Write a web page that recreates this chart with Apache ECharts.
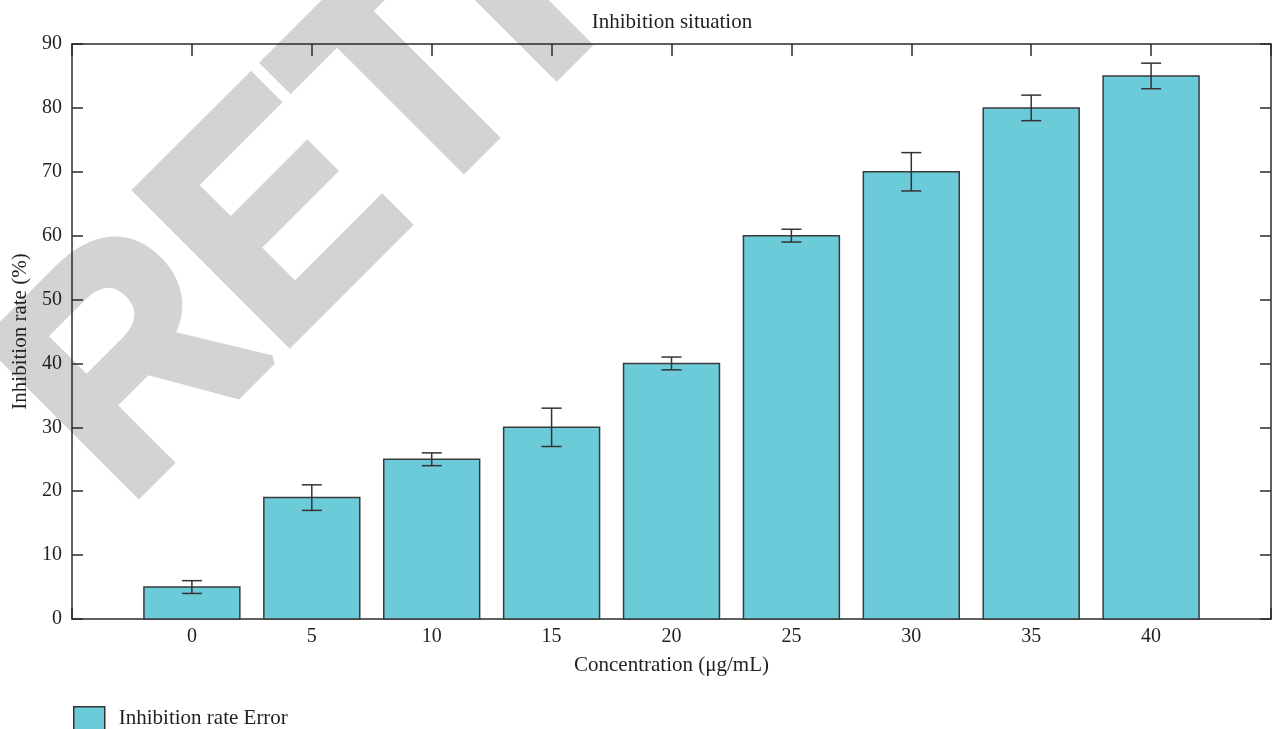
<!DOCTYPE html>
<html>
<head>
<meta charset="utf-8">
<title>Inhibition situation</title>
<script src="https://cdn.jsdelivr.net/npm/echarts@6/dist/echarts.min.js"></script>
<style>
  html, body { margin: 0; padding: 0; background: #ffffff; }
  #chart { width: 1274px; height: 729px; }
</style>
</head>
<body>
<div id="chart"></div>
<script>
// Concentrations (µg/mL), inhibition rate (%) and the ± error for each bar
const concentrations = [0, 5, 10, 15, 20, 25, 30, 35, 40];
const inhibitionRates = [5, 19, 25, 30, 40, 60, 70, 80, 85];
const rateErrors = [1, 2, 1, 3, 1, 1, 3, 2, 2];

const titleText = 'Inhibition situation';
const xAxisName = 'Concentration (μg/mL)';
const yAxisName = 'Inhibition rate (%)';
const seriesName = 'Inhibition rate Error';
const watermarkText = 'RETRACTED';

const FONT = '"Liberation Serif", "Times New Roman", serif';
const INK = '#231f20';
const FRAME = '#2b2b2b';
const BAR_FILL = '#6ccbd9';
const BAR_SPAN = 4; // bar width in concentration units

const chart = echarts.init(document.getElementById('chart'), null, { renderer: 'canvas' });

const rows = concentrations.map((c, i) => [c, inhibitionRates[i], rateErrors[i]]);

function renderBar(params, api) {
  const x = api.value(0);
  const v = api.value(1);
  const e = api.value(2);
  const base = api.coord([x, 0]);
  const top = api.coord([x, v]);
  const hi = api.coord([x, v + e]);
  const lo = api.coord([x, v - e]);
  const w = api.size([BAR_SPAN, 0])[0];
  const cap = 10;
  const lineStyle = { stroke: '#333333', lineWidth: 1.5 };
  return {
    type: 'group',
    children: [
      {
        type: 'rect',
        shape: { x: base[0] - w / 2, y: top[1], width: w, height: base[1] - top[1] },
        style: { fill: BAR_FILL, stroke: '#3a3a3a', lineWidth: 1.5 }
      },
      { type: 'line', shape: { x1: hi[0], y1: hi[1], x2: lo[0], y2: lo[1] }, style: lineStyle },
      { type: 'line', shape: { x1: hi[0] - cap, y1: hi[1], x2: hi[0] + cap, y2: hi[1] }, style: lineStyle },
      { type: 'line', shape: { x1: lo[0] - cap, y1: lo[1], x2: lo[0] + cap, y2: lo[1] }, style: lineStyle }
    ]
  };
}

const axisLine = { show: true, onZero: false, lineStyle: { color: FRAME, width: 1.5 } };
const tickStyle = { color: FRAME, width: 1.5 };

const option = {
  backgroundColor: '#ffffff',
  animation: false,
  title: {
    text: titleText,
    left: 672,
    textAlign: 'center',
    top: 12,
    padding: 0,
    textStyle: { fontFamily: FONT, fontSize: 21, fontWeight: 'normal', color: INK }
  },
  graphic: [
    {
      // diagonal stamp behind the plot
      type: 'text',
      x: 174,
      y: 556,
      rotation: Math.PI / 4,
      scaleX: 0.95,
      z: -100,
      silent: true,
      style: {
        text: watermarkText,
        font: 'bold 311px "Liberation Sans", Arial, sans-serif',
        fill: '#d3d3d3',
        stroke: '#d3d3d3',
        lineWidth: 10,
        lineJoin: 'miter',
        textAlign: 'left',
        textVerticalAlign: 'bottom'
      }
    }
  ],
  legend: {
    data: [seriesName],
    left: 73,
    top: 706,
    padding: 0,
    itemWidth: 31,
    itemHeight: 23,
    icon: 'rect',
    itemStyle: { color: BAR_FILL, borderColor: '#333333', borderWidth: 1.5 },
    textStyle: { fontFamily: FONT, fontSize: 21, color: INK, padding: [0, 0, 0, 9] }
  },
  grid: { left: 72, right: 1, top: 44, bottom: 110, containLabel: false },
  xAxis: [
    {
      type: 'value',
      min: -5,
      max: 45,
      interval: 5,
      position: 'bottom',
      axisLine: axisLine,
      axisTick: { show: true, inside: true, length: 11, lineStyle: tickStyle },
      axisLabel: {
        fontFamily: FONT, fontSize: 20, color: INK, margin: 8,
        formatter: v => (concentrations.includes(v) ? String(v) : '')
      },
      splitLine: { show: false },
      name: xAxisName,
      nameLocation: 'middle',
      nameGap: 36,
      nameTextStyle: { fontFamily: FONT, fontSize: 21, color: INK }
    },
    {
      type: 'value',
      min: -5,
      max: 45,
      interval: 5,
      position: 'top',
      axisLine: axisLine,
      axisTick: { show: true, inside: true, length: 12, lineStyle: tickStyle },
      axisLabel: { show: false },
      splitLine: { show: false }
    }
  ],
  yAxis: [
    {
      type: 'value',
      min: 0,
      max: 90,
      interval: 10,
      position: 'left',
      axisLine: axisLine,
      axisTick: { show: true, inside: true, length: 11, lineStyle: tickStyle },
      axisLabel: { fontFamily: FONT, fontSize: 20, color: INK, margin: 10 },
      splitLine: { show: false },
      name: yAxisName,
      nameLocation: 'middle',
      nameGap: 41,
      nameTextStyle: { fontFamily: FONT, fontSize: 21, color: INK }
    },
    {
      type: 'value',
      min: 0,
      max: 90,
      interval: 10,
      position: 'right',
      axisLine: axisLine,
      axisTick: { show: true, inside: true, length: 11, lineStyle: tickStyle },
      axisLabel: { show: false },
      splitLine: { show: false }
    }
  ],
  series: [
    {
      name: seriesName,
      type: 'custom',
      xAxisIndex: 0,
      yAxisIndex: 0,
      itemStyle: { color: BAR_FILL, borderColor: '#333333', borderWidth: 1.5 },
      renderItem: renderBar,
      encode: { x: 0, y: 1 },
      data: rows,
      z: 2
    }
  ]
};

chart.setOption(option);
</script>
</body>
</html>
